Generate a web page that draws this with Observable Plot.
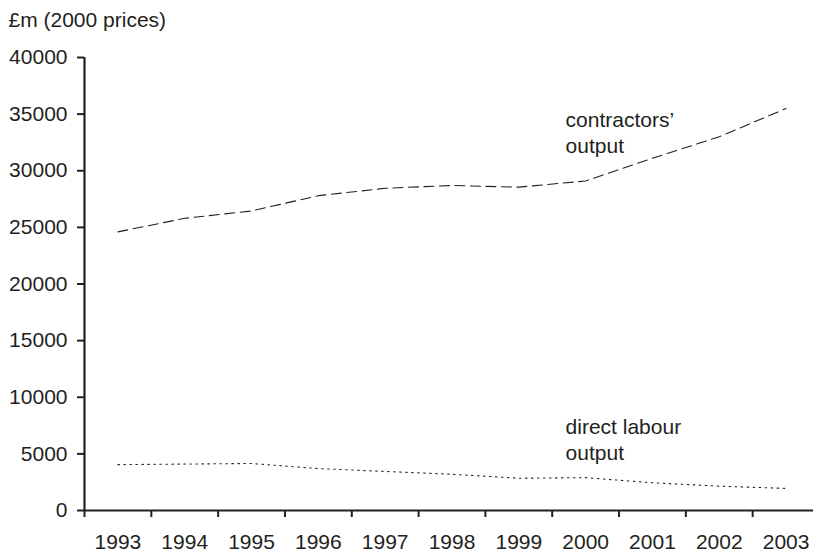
<!DOCTYPE html>
<html>
<head>
<meta charset="utf-8">
<script src="https://cdn.jsdelivr.net/npm/d3@7"></script>
<script src="https://cdn.jsdelivr.net/npm/@observablehq/plot@0.6"></script>
<style>
  html, body { margin: 0; padding: 0; background: #fff; overflow: hidden; }
  #chart svg { display: block; }
</style>
</head>
<body>
<div id="chart"></div>
<script>
const years = [1993, 1994, 1995, 1996, 1997, 1998, 1999, 2000, 2001, 2002, 2003];
const contractors = [24600, 25800, 26450, 27800, 28450, 28700, 28550, 29100, 31100, 33000, 35500];
const directLabour = [4050, 4100, 4150, 3700, 3450, 3200, 2850, 2900, 2450, 2150, 1950];
const yTicks = [0, 5000, 10000, 15000, 20000, 25000, 30000, 35000, 40000];
const unitLabel = "£m (2000 prices)";
const seriesLabels = ["contractors’\noutput", "direct labour\noutput"];
const labelX = [1999.7, 1999.7];
const labelY = [35550, 8400];

const ink = "#231f20";
const font = "'Liberation Sans', Arial, Helvetica, sans-serif";
const fs = 21;

const rows = years.map((y, i) => ({year: y, contractors: contractors[i], direct: directLabour[i]}));
const bandEdges = years.map(y => y - 0.5).concat([years[years.length - 1] + 0.5]);
const xMin = years[0] - 0.5, xMax = years[years.length - 1] + 0.5;
const labels = seriesLabels.map((t, i) => ({t, x: labelX[i], y: labelY[i]}));

const chart = Plot.plot({
  width: 813,
  height: 555,
  marginTop: 57,
  marginBottom: 45,
  marginLeft: 84,
  marginRight: 0,
  style: {fontFamily: font, fontSize: fs + "px", color: ink, background: "#fff", overflow: "visible"},
  x: {type: "linear", domain: [xMin, xMax], range: [84, 819]},
  y: {domain: [0, 40000], range: [510, 57]},
  marks: [
    Plot.axisY({ticks: yTicks, tickSize: 7, tickPadding: 10, tickFormat: d => String(d), label: null, fontSize: fs, stroke: ink, strokeWidth: 2, fill: ink}),
    Plot.axisX({ticks: bandEdges, tickSize: 7, tickFormat: () => "", label: null, stroke: ink, strokeWidth: 2}),
    Plot.axisX({ticks: years, tickSize: 0, tickPadding: 24, tickFormat: d => String(d), label: null, fontSize: fs, fill: ink}),
    Plot.ruleY([0], {x1: xMin, x2: xMax, stroke: ink, strokeWidth: 2.2}),
    Plot.ruleX([xMin], {y1: 0, y2: 40000, stroke: ink, strokeWidth: 2.2}),
    Plot.line(rows, {x: "year", y: "contractors", stroke: ink, strokeWidth: 1.1, strokeDasharray: "10,5.5"}),
    Plot.line(rows, {x: "year", y: "direct", stroke: ink, strokeWidth: 1.1, strokeDasharray: "1.5,4.5"}),
    Plot.text(labels, {x: "x", y: "y", text: "t", textAnchor: "start", lineAnchor: "top", lineHeight: 1.25, fontSize: fs, fill: ink}),
    Plot.text([unitLabel], {frameAnchor: "top-left", text: d => d, dx: -76, dy: -45, textAnchor: "start", lineAnchor: "top", fontSize: fs, fill: ink})
  ]
});
document.getElementById("chart").appendChild(chart);
</script>
</body>
</html>
